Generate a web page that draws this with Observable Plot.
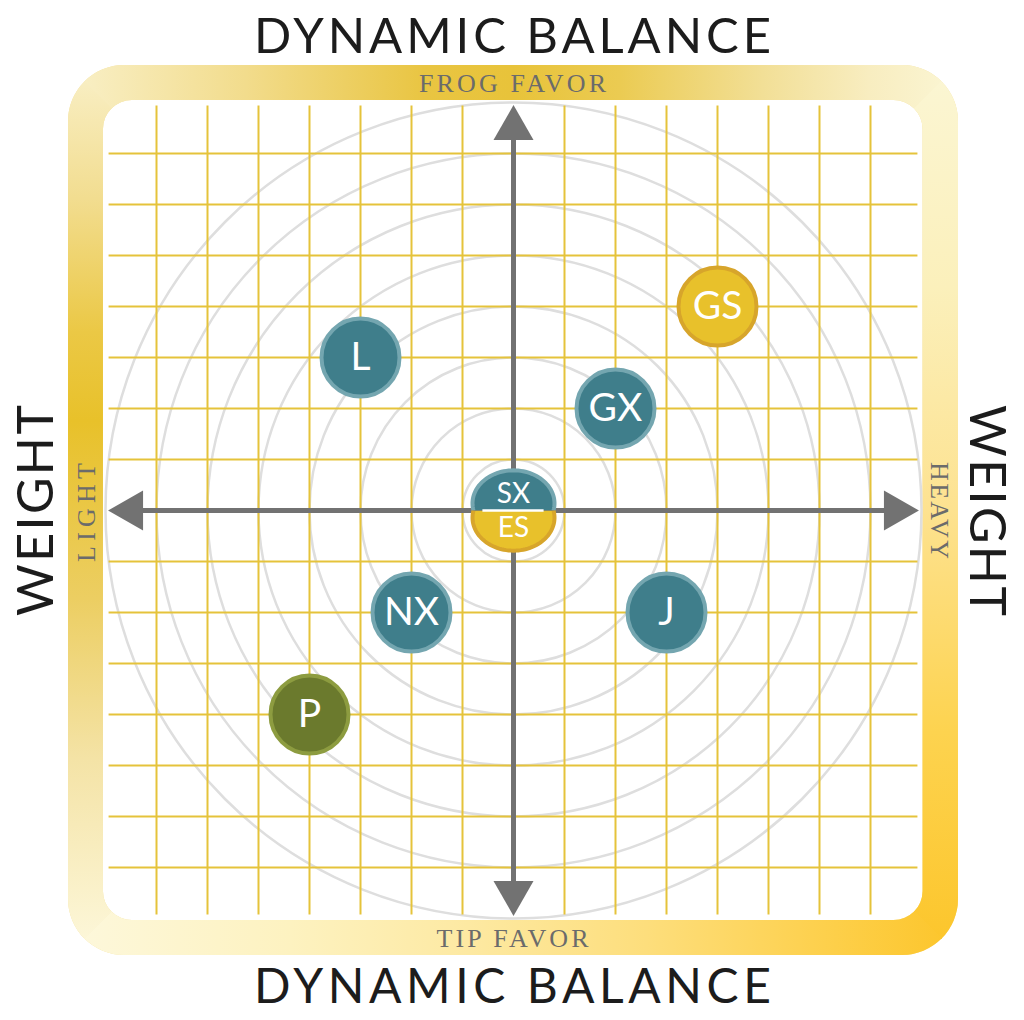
<!DOCTYPE html>
<html><head><meta charset="utf-8">
<script src="https://cdn.jsdelivr.net/npm/d3@7"></script>
<script src="https://cdn.jsdelivr.net/npm/@observablehq/plot@0.6"></script>
<style>html,body{margin:0;padding:0;background:#fff;} #chart svg{display:block}</style>
</head><body><div id="chart"></div>
<script>
// ---- data (grid units; x: light(-) .. heavy(+), y: tip favor(-) .. frog favor(+)) ----
const names   = ["GS", "L", "GX", "SX", "ES", "NX", "J", "P"];
const weight  = [4, -3, 2, 0, 0, -2, 3, -4];
const balance = [4, 3, 2, 0.14, -0.14, -2, -2, -4];
const series  = ["gold", "teal", "teal", "teal", "gold", "teal", "teal", "olive"];
const gridTicks = [-7, -6, -5, -4, -3, -2, -1, 1, 2, 3, 4, 5, 6, 7];
const rings = [1, 2, 3, 4, 5, 6, 7, 8];
const titleText = "DYNAMIC BALANCE";
const sideTitle = "WEIGHT";
const topLabel = "FROG FAVOR", bottomLabel = "TIP FAVOR", leftLabel = "LIGHT", rightLabel = "HEAVY";

// ---- styling / layout ----
const palette = {
  teal:  {fill: "#3f7e8b", stroke: "#74a6b0"},
  gold:  {fill: "#e8c12b", stroke: "#d7a52b"},
  olive: {fill: "#6b7a2d", stroke: "#8d9c40"}
};
const unit = 51, cxPx = 513, cyPx = 510, span = 8;
const gridExtent = 7.93, axisExtent = 7.3, tip = 7.95;
const textWidths = {"DYNAMIC BALANCE": 517, "FROG FAVOR": 187, "TIP FAVOR": 152, "LIGHT": 99, "HEAVY": 97, "WEIGHT": 211};

const pucks = names.map((name, i) => ({name, weight: weight[i], balance: balance[i], series: series[i]}));
const stacked = {SX: "top", ES: "bottom"};
const roundPucks = pucks.filter(d => !(d.name in stacked));
const topPuck = pucks.filter(d => stacked[d.name] === "top");
const bottomPuck = pucks.filter(d => stacked[d.name] === "bottom");

// custom symbols
function capSymbol(dir) {
  return {draw(ctx) {
    const rx = 41, ry = 33, cut = 7;
    const t0 = Math.asin(cut / ry);
    const n = 60;
    for (let k = 0; k <= n; k++) {
      const t = (Math.PI - t0) + (Math.PI + 2 * t0) * k / n;
      const x = rx * Math.cos(t), y = dir * ry * Math.sin(t);
      if (k === 0) ctx.moveTo(x, y); else ctx.lineTo(x, y);
    }
  }};
}
function arrowSymbol(dx, dy) {
  return {draw(ctx) {
    const L = 35, W = 20;
    ctx.moveTo(0, 0);
    ctx.lineTo(-dx * L - dy * W, -dy * L - dx * W);
    ctx.lineTo(-dx * L + dy * W, -dy * L + dx * W);
    ctx.closePath();
  }};
}

function rr(x0, y0, x1, y1, r) {
  return `M${x0 + r},${y0}H${x1 - r}A${r},${r} 0 0 1 ${x1},${y0 + r}V${y1 - r}A${r},${r} 0 0 1 ${x1 - r},${y1}H${x0 + r}A${r},${r} 0 0 1 ${x0},${y1 - r}V${y0 + r}A${r},${r} 0 0 1 ${x0 + r},${y0}Z`;
}

function frameMark(index, scales) {
  const X = scales.x, Y = scales.y;
  const u = X(1) - X(0), cx = X(0), cy = Y(0);
  const oh = 8.725 * u, ih = 8.03 * u;
  const ox0 = cx - oh, ox1 = cx + oh, oy0 = cy - oh, oy1 = cy + oh;
  const g = d3.create("svg:g");
  const defs = g.append("defs");
  const grads = {
    fTop: [[ox0, cy, ox1, cy], [[0, "#f9f0c8"], [0.2, "#f2dc8c"], [0.4, "#e9c542"], [0.5, "#e8c33a"], [0.62, "#ebcb52"], [0.78, "#f2df96"], [0.9, "#f8edc0"], [1, "#fbf6d4"]]],
    fBottom: [[ox0, cy, ox1, cy], [[0, "#fdf8dc"], [0.25, "#fdf2c0"], [0.45, "#fde9a2"], [0.65, "#fdde7c"], [0.85, "#fdd04c"], [1, "#fcc52a"]]],
    fLeft: [[cx, oy0, cx, oy1], [[0, "#f9f0c8"], [0.15, "#f2dd90"], [0.3, "#ebc845"], [0.4, "#e8c12a"], [0.6, "#ecce62"], [0.78, "#f4e3a6"], [1, "#fdf8dc"]]],
    fRight: [[cx, oy0, cx, oy1], [[0, "#fbf6d4"], [0.25, "#fbf0bb"], [0.5, "#fde290"], [0.75, "#fdd34f"], [1, "#fcc52a"]]]
  };
  for (const [id, [[x1, y1, x2, y2], stops]] of Object.entries(grads)) {
    const lg = defs.append("linearGradient").attr("id", id).attr("gradientUnits", "userSpaceOnUse")
      .attr("x1", x1).attr("y1", y1).attr("x2", x2).attr("y2", y2);
    for (const [o, c] of stops) lg.append("stop").attr("offset", o).attr("stop-color", c);
  }
  const ringPath = rr(ox0, oy0, ox1, oy1, 56) + rr(cx - ih - 0.5, cy - ih - 0.5, cx + ih, cy + ih + 0.5, 29);
  defs.append("clipPath").attr("id", "frameClip").append("path").attr("d", ringPath).attr("clip-rule", "evenodd");
  g.append("path").attr("d", ringPath).attr("fill-rule", "evenodd").attr("fill", "#f3e09e");
  const tg = g.append("g").attr("clip-path", "url(#frameClip)");
  const tris = [
    ["fTop", [[ox0, oy0], [ox1, oy0], [cx, cy]]],
    ["fRight", [[ox1, oy0], [ox1, oy1], [cx, cy]]],
    ["fBottom", [[ox1, oy1], [ox0, oy1], [cx, cy]]],
    ["fLeft", [[ox0, oy1], [ox0, oy0], [cx, cy]]]
  ];
  for (const [id, pts] of tris) {
    tg.append("polygon").attr("points", pts.map(p => p.join(",")).join(" "))
      .attr("fill", `url(#${id})`).attr("stroke", `url(#${id})`).attr("stroke-width", 1);
  }
  return g.node();
}

const titleFont = "Lato, 'Open Sans', sans-serif";
const serifFont = "'Liberation Serif', 'DejaVu Serif', serif";
const label = (txt, o) => Plot.text([txt], {text: d => d, textAnchor: "middle", lineAnchor: "middle", ...o});

const chart = Plot.plot({
  width: 1024,
  height: 1020,
  margin: 0,
  style: {background: "white", overflow: "visible"},
  x: {domain: [-span, span], range: [cxPx - span * unit, cxPx + span * unit], axis: null},
  y: {domain: [-span, span], range: [cyPx + span * unit, cyPx - span * unit], axis: null},
  r: {type: "identity"},
  color: {type: "identity"},
  marks: [
    frameMark,
    Plot.dot(rings, {x: () => 0, y: () => 0, r: d => d * unit, stroke: "#dedede", strokeWidth: 2.5, fill: "none"}),
    Plot.ruleX(gridTicks, {y1: -gridExtent, y2: gridExtent, stroke: "#e5c33b", strokeWidth: 2}),
    Plot.ruleY(gridTicks, {x1: -gridExtent, x2: gridExtent, stroke: "#e5c33b", strokeWidth: 2}),
    Plot.ruleX([0], {y1: -axisExtent, y2: axisExtent, stroke: "#727272", strokeWidth: 5}),
    Plot.ruleY([0], {x1: -axisExtent, x2: axisExtent, stroke: "#727272", strokeWidth: 5}),
    Plot.dot([0], {x: () => 0, y: () => tip, symbol: arrowSymbol(0, -1), fill: "#727272", r: 10}),
    Plot.dot([0], {x: () => 0, y: () => -tip, symbol: arrowSymbol(0, 1), fill: "#727272", r: 10}),
    Plot.dot([0], {x: () => -tip, y: () => 0, symbol: arrowSymbol(-1, 0), fill: "#727272", r: 10}),
    Plot.dot([0], {x: () => tip, y: () => 0, symbol: arrowSymbol(1, 0), fill: "#727272", r: 10}),
    Plot.dot(roundPucks, {x: "weight", y: "balance", r: 39, strokeWidth: 4,
      fill: d => palette[d.series].fill, stroke: d => palette[d.series].stroke}),
    Plot.dot(topPuck, {x: "weight", y: "balance", symbol: capSymbol(1), r: 20, strokeWidth: 4,
      fill: d => palette[d.series].fill, stroke: d => palette[d.series].stroke}),
    Plot.dot(bottomPuck, {x: "weight", y: "balance", symbol: capSymbol(-1), r: 20, strokeWidth: 4,
      fill: d => palette[d.series].fill, stroke: d => palette[d.series].stroke}),
    Plot.ruleY([0], {x1: -0.6, x2: 0.6, stroke: "white", strokeWidth: 2.5}),
    Plot.text(roundPucks, {x: "weight", y: "balance", text: "name", fill: "white", fontSize: 39, fontFamily: titleFont, fontWeight: 400}),
    Plot.text(topPuck, {x: "weight", y: "balance", text: "name", fill: "white", fontSize: 28, fontFamily: titleFont, dy: -9}),
    Plot.text(bottomPuck, {x: "weight", y: "balance", text: "name", fill: "white", fontSize: 28, fontFamily: titleFont, dy: 10}),
    // titles and side labels
    label(titleText, {frameAnchor: "top", dy: 37, fontSize: 49, fontFamily: titleFont, fill: "#1c1c1c"}),
    label(titleText, {frameAnchor: "bottom", dy: -33, fontSize: 48, fontFamily: titleFont, fill: "#1c1c1c"}),
    label(sideTitle, {frameAnchor: "left", dx: 36, rotate: -90, fontSize: 50, fontFamily: titleFont, fill: "#1c1c1c"}),
    label(sideTitle, {frameAnchor: "right", dx: -39, rotate: 90, fontSize: 50, fontFamily: titleFont, fill: "#1c1c1c"}),
    label(topLabel, {frameAnchor: "top", dy: 83, fontSize: 26, fontFamily: serifFont, fill: "#6b6b6b"}),
    label(bottomLabel, {frameAnchor: "bottom", dy: -82, fontSize: 26, fontFamily: serifFont, fill: "#6b6b6b"}),
    label(leftLabel, {frameAnchor: "left", dx: 86, dy: 2, rotate: -90, fontSize: 26, fontFamily: serifFont, fill: "#6b6b6b"}),
    label(rightLabel, {frameAnchor: "right", dx: -85, rotate: 90, fontSize: 26, fontFamily: serifFont, fill: "#6b6b6b"})
  ]
});

d3.select(chart).selectAll("text").each(function() {
  const w = textWidths[this.textContent];
  if (w) d3.select(this).attr("textLength", w).attr("lengthAdjust", "spacing");
});

document.getElementById("chart").appendChild(chart);
</script>
</body></html>
